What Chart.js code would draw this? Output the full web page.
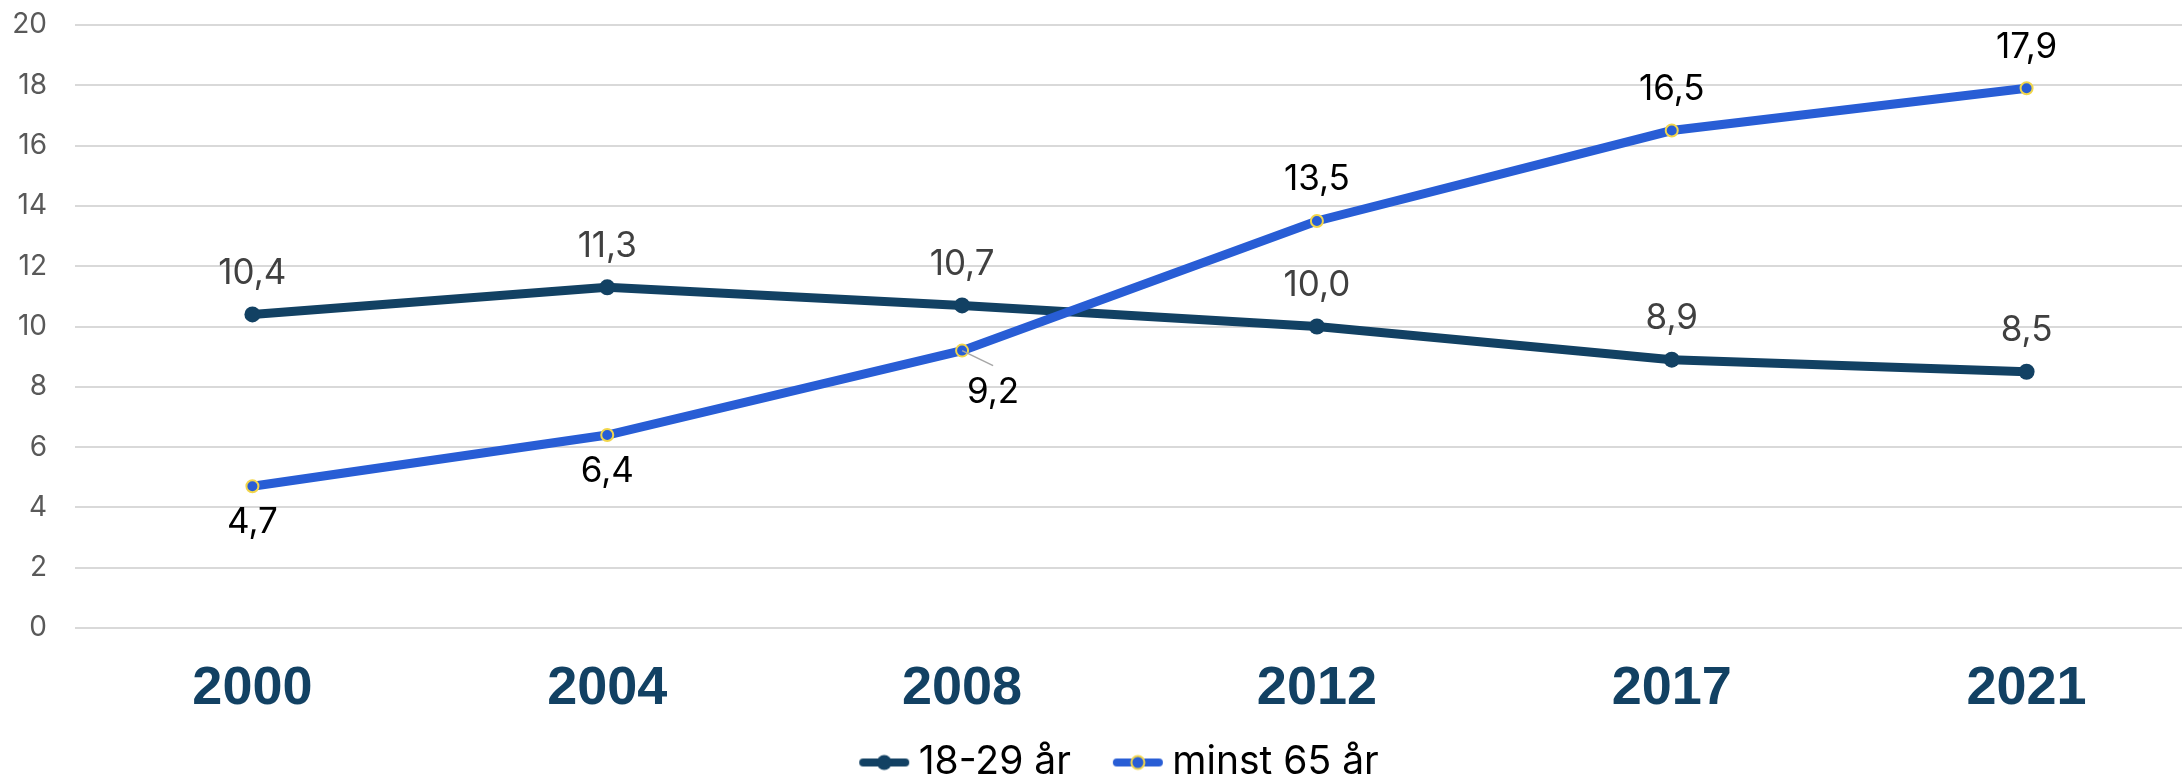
<!DOCTYPE html>
<html lang="sv">
<head>
  <meta charset="UTF-8" />
  <title>18-29 år och minst 65 år</title>
  <script src="https://cdn.jsdelivr.net/npm/chart.js"></script>
  <style>
    body {
      margin: 0;
      padding: 0;
      background: #fff;
    }
    .frame {
      width: 2182px;
      height: 776px;
      overflow: hidden;
      position: relative;
    }
    canvas {
      display: block;
    }
  </style>
</head>
<body>

  <div class="frame">
    <canvas id="lineChart" width="2212" height="829"></canvas>
  </div>

  <script>
    // data
    const years = ['2000', '2004', '2008', '2012', '2017', '2021'];
    const young = [10.4, 11.3, 10.7, 10.0, 8.9, 8.5];
    const old = [4.7, 6.4, 9.2, 13.5, 16.5, 17.9];
    const seriesNames = ['18-29 år', 'minst 65 år'];

    // where each value label sits
    const youngLabelPos = ['above', 'above', 'above', 'above', 'above', 'above'];
    const oldLabelPos = ['below', 'below', 'callout', 'above', 'above', 'above'];

    const navy = '#124163';
    const blue = '#285dd5';
    const yellow = '#f2d64b';

    // legend sits a little right of the canvas centre, near the bottom edge
    const legendCenterX = 1124;
    const legendTop = 691;

    function legendIcon(color, border) {
      const c = document.createElement('canvas');
      c.width = 52;
      c.height = 20;
      const g = c.getContext('2d');
      g.strokeStyle = color;
      g.lineWidth = 8;
      g.lineCap = 'round';
      g.beginPath();
      g.moveTo(5, 10);
      g.lineTo(47, 10);
      g.stroke();
      g.fillStyle = color;
      g.beginPath();
      g.arc(26, 10, border ? 6.5 : 7.5, 0, Math.PI * 2);
      g.fill();
      if (border) {
        g.strokeStyle = border;
        g.lineWidth = 2;
        g.stroke();
      }
      return c;
    }

    const fmt = v => v.toFixed(1).replace('.', ',');

    const valueLabels = {
      id: 'valueLabels',
      beforeDraw(chart) {
        const lg = chart.legend;
        const dx = legendCenterX - (lg.left + lg.right) / 2;
        const dy = legendTop - lg.top;
        lg.left += dx;
        lg.right += dx;
        lg.top += dy;
        lg.bottom += dy;
      },
      afterDatasetsDraw(chart) {
        const ctx = chart.ctx;
        ctx.save();
        ctx.font = '35px Inter';
        ctx.textAlign = 'center';
        ctx.textBaseline = 'middle';
        chart.data.datasets.forEach((ds, di) => {
          const meta = chart.getDatasetMeta(di);
          meta.data.forEach((pt, i) => {
            const pos = ds.labelPos[i];
            const text = fmt(ds.data[i]);
            ctx.fillStyle = ds.labelColor;
            if (pos === 'above') {
              ctx.fillText(text, pt.x, pt.y - 41);
            } else if (pos === 'below') {
              ctx.fillText(text, pt.x, pt.y + 36);
            } else {
              ctx.strokeStyle = '#a6a6a6';
              ctx.lineWidth = 1.5;
              ctx.beginPath();
              ctx.moveTo(pt.x, pt.y);
              ctx.lineTo(pt.x + 31, pt.y + 15);
              ctx.stroke();
              ctx.fillText(text, pt.x + 31, pt.y + 42);
            }
          });
        });
        ctx.restore();
      }
    };

    const ctx = document.getElementById('lineChart').getContext('2d');
    const chart = new Chart(ctx, {
      type: 'line',
      data: {
        labels: years,
        datasets: [
          {
            label: seriesNames[0],
            data: young,
            borderColor: navy,
            backgroundColor: navy,
            borderWidth: 9,
            pointRadius: 8,
            pointBorderWidth: 0,
            pointBackgroundColor: navy,
            order: 1,
            labelPos: youngLabelPos,
            labelColor: '#404040',
            legendIcon: legendIcon(navy)
          },
          {
            label: seriesNames[1],
            data: old,
            borderColor: blue,
            backgroundColor: blue,
            borderWidth: 9,
            pointRadius: 6,
            pointBorderWidth: 2,
            pointBorderColor: yellow,
            pointBackgroundColor: blue,
            order: 0,
            labelPos: oldLabelPos,
            labelColor: '#000000',
            legendIcon: legendIcon(blue, yellow)
          }
        ]
      },
      options: {
        responsive: false,
        animation: false,
        devicePixelRatio: 1,
        events: [],
        layout: {
          padding: { top: 25, left: 0, right: 0, bottom: 0 }
        },
        plugins: {
          tooltip: { enabled: false },
          legend: {
            position: 'bottom',
            labels: {
              usePointStyle: true,
              pointStyleWidth: 30,
              padding: 52,
              color: '#000',
              font: { family: 'Inter', size: 39 },
              sort: (a, b) => a.datasetIndex - b.datasetIndex,
              generateLabels: c => c.data.datasets.map((ds, i) => ({
                text: ds.label,
                pointStyle: ds.legendIcon,
                datasetIndex: i,
                fontColor: '#000',
                lineWidth: 0,
                strokeStyle: 'transparent',
                fillStyle: 'transparent'
              }))
            }
          }
        },
        scales: {
          x: {
            offset: true,
            grid: { display: false, drawTicks: false },
            border: { display: false },
            ticks: {
              padding: 29,
              color: navy,
              font: { family: 'Liberation Sans', size: 54, weight: 'bold' }
            },
            afterFit: s => {
              s.height = 100;
              s.paddingLeft = 0;
              s.paddingRight = 0;
            }
          },
          y: {
            min: 0,
            max: 20,
            grid: { color: '#d9d9d9', lineWidth: 2, drawTicks: false },
            border: { display: false },
            ticks: {
              stepSize: 2,
              padding: 28,
              color: '#595959',
              font: { family: 'Inter', size: 28 }
            },
            afterFit: s => {
              s.width = 75;
              s.paddingTop = 0;
              s.paddingBottom = 0;
            }
          }
        }
      },
      plugins: [valueLabels]
    });
  </script>

</body>
</html>
